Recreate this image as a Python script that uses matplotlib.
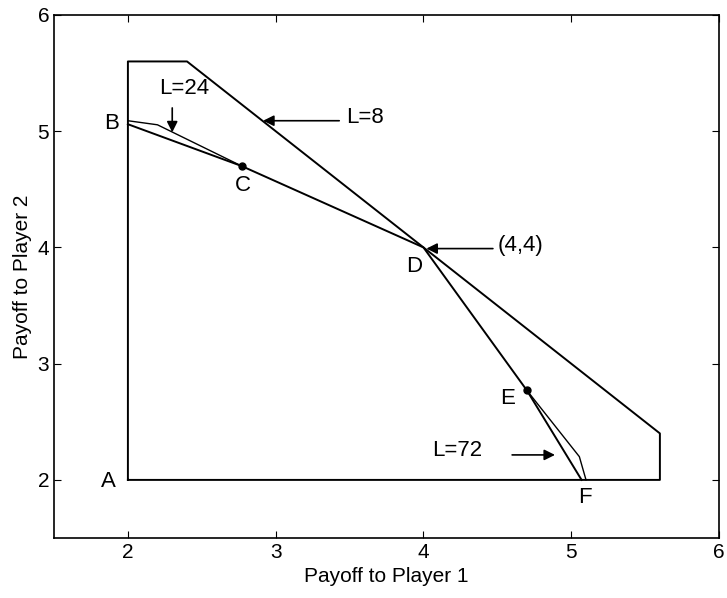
import matplotlib
matplotlib.use("Agg")
from matplotlib import pyplot as plt

plt.rcParams['font.family'] = ['Liberation Sans', 'DejaVu Sans']
plt.rcParams['font.size'] = 15

# outer hull for L=8
hull_x = [2.0, 2.0, 2.4, 5.6, 5.6, 2.0]
hull_y = [2.0, 5.6, 5.6, 2.4, 2.0, 2.0]

# frontier B-C-D-E-F
front_x = [2.0, 2.77, 4.0, 4.7, 5.07]
front_y = [5.06, 4.7, 4.0, 2.77, 2.0]

# L=24 curve near B-C, L=72 curve near E-F
l24_x = [2.0, 2.2, 2.77]
l24_y = [5.09, 5.055, 4.7]
l72_x = [4.7, 5.055, 5.1]
l72_y = [2.77, 2.2, 2.0]

dots_x = [2.77, 4.7]
dots_y = [4.7, 2.77]

point_labels = ['A', 'B', 'C', 'D', 'E', 'F']
label_x = [1.87, 1.89, 2.78, 3.94, 4.57, 5.09]
label_y = [1.99, 5.07, 4.53, 3.84, 2.70, 1.85]


def draw():
    fig = plt.figure(figsize=(7.27, 5.98), dpi=100)
    ax = fig.add_axes([0.0743, 0.1003, 0.9147, 0.8747])

    ax.plot(hull_x, hull_y, color='black', lw=1.4)
    ax.plot(front_x, front_y, color='black', lw=1.4)
    ax.plot(l24_x, l24_y, color='black', lw=1.0)
    ax.plot(l72_x, l72_y, color='black', lw=1.0)
    ax.plot(dots_x, dots_y, 'o', color='black', ms=5)

    for s, x, y in zip(point_labels, label_x, label_y):
        ax.text(x, y, s, ha='center', va='center', fontsize=16)

    arrow = dict(arrowstyle='-|>', color='black', lw=1.2, mutation_scale=16,
                 shrinkA=0, shrinkB=0)
    ax.annotate('', xy=(2.915, 5.09), xytext=(3.43, 5.09), arrowprops=arrow)
    ax.text(3.48, 5.12, 'L=8', ha='left', va='center', fontsize=16)
    ax.annotate('', xy=(2.30, 4.99), xytext=(2.30, 5.2), arrowprops=arrow)
    ax.text(2.38, 5.37, 'L=24', ha='center', va='center', fontsize=16)
    ax.annotate('', xy=(4.02, 3.99), xytext=(4.47, 3.99), arrowprops=arrow)
    ax.text(4.5, 4.02, '(4,4)', ha='left', va='center', fontsize=16)
    ax.annotate('', xy=(4.89, 2.215), xytext=(4.60, 2.215), arrowprops=arrow)
    ax.text(4.225, 2.25, 'L=72', ha='center', va='center', fontsize=16)

    ax.set_xlim(1.5, 6)
    ax.set_ylim(1.5, 6)
    ax.set_xticks([2, 3, 4, 5, 6])
    ax.set_yticks([2, 3, 4, 5, 6])
    ax.tick_params(direction='in', top=True, right=True, length=5, labelsize=15)
    for sp in ax.spines.values():
        sp.set_linewidth(1.2)
    ax.set_xlabel('Payoff to Player 1', fontsize=15)
    ax.set_ylabel('Payoff to Player 2', fontsize=15)

    fig.savefig('out.png', dpi=100)


draw()
